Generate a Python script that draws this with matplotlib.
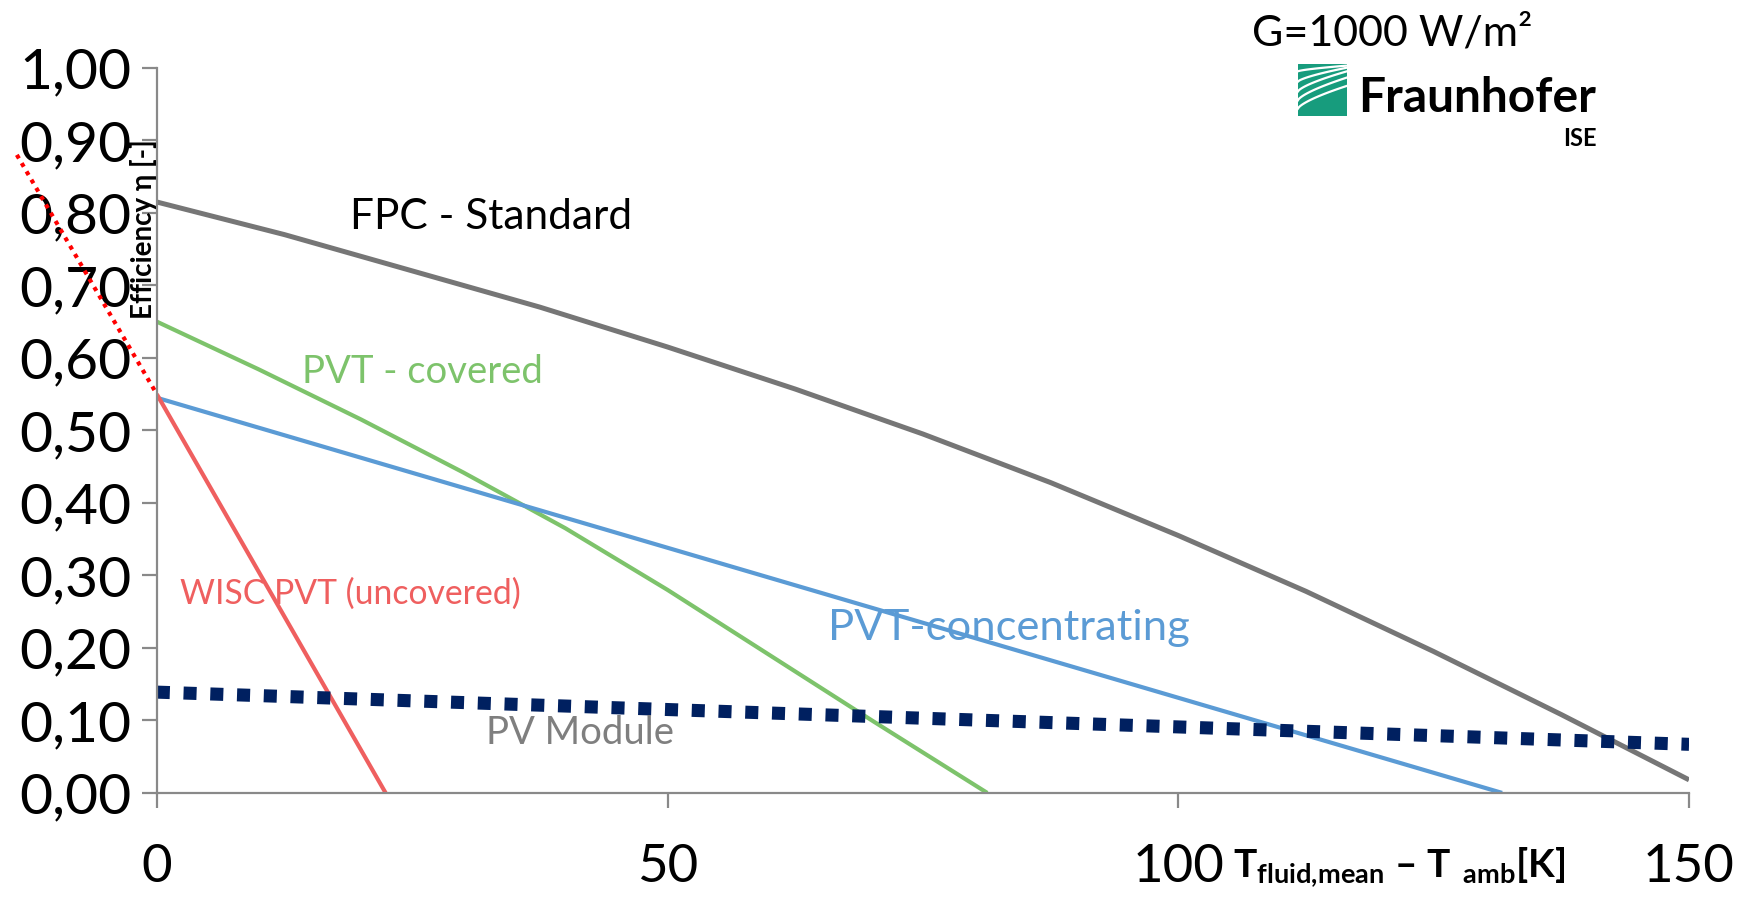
import matplotlib
matplotlib.use("Agg")
import matplotlib.pyplot as plt
import numpy as np
from matplotlib.ticker import FuncFormatter
from matplotlib.patches import Rectangle

plt.rcParams['font.family'] = ['Lato', 'DejaVu Sans']
plt.rcParams['mathtext.fontset'] = 'custom'
plt.rcParams['mathtext.rm'] = 'Lato'
plt.rcParams['mathtext.bf'] = 'Lato:bold'

# values (x = T_fluid,mean - T_amb in K, y = efficiency)
fpc_x = [0, 12.5, 25, 37.5, 50, 62.5, 75, 87.5, 100, 112.5, 125, 137.5, 150]
fpc_eta = [0.815, 0.77, 0.72, 0.67, 0.615, 0.557, 0.495, 0.428, 0.355,
           0.278, 0.195, 0.108, 0.018]

pvt_cov_x = [0, 10, 20, 30, 40, 50, 60, 70, 81.3]
pvt_cov_eta = [0.65, 0.584, 0.515, 0.442, 0.365, 0.28, 0.19, 0.10, 0.0]

pvt_conc_x = [0, 131.7]
pvt_conc_eta = [0.545, 0.0]

wisc_x = [0, 22.4]
wisc_eta = [0.55, 0.0]
wisc_ext_x = [-13.7, 0]
wisc_ext_eta = [0.88, 0.55]

pv_x = [0, 150]
pv_eta = [0.139, 0.067]

x_ticks = [0, 50, 100, 150]
y_ticks = [0.0, 0.1, 0.2, 0.3, 0.4, 0.5, 0.6, 0.7, 0.8, 0.9, 1.0]

# colours
GREY_AX = '#898989'
C_FPC = '#767676'
C_COV = '#7dc36b'
C_CONC = '#5b9bd5'
C_WISC = '#ef5f5f'
C_PV = '#002060'

fig = plt.figure(figsize=(17.42, 9), dpi=100)
ax = fig.add_axes([0.090, 0.119, 0.8796, 0.8056])

ax.plot(fpc_x, fpc_eta, color=C_FPC, lw=3.6, solid_capstyle='butt')
ax.plot(pvt_cov_x, pvt_cov_eta, color=C_COV, lw=3.0, solid_capstyle='butt')
ax.plot(pvt_conc_x, pvt_conc_eta, color=C_CONC, lw=3.0, solid_capstyle='butt')
ax.plot(wisc_x, wisc_eta, color=C_WISC, lw=3.0, solid_capstyle='butt')
ax.plot(wisc_ext_x, wisc_ext_eta, color='#ff0000', lw=3.0, ls=(0, (1, 1.3)),
        clip_on=False)
ax.plot(pv_x, pv_eta, color=C_PV, lw=9.4, ls=(0, (1, 1.05)),
        dash_capstyle='butt')

ax.set_xlim(0, 150)
ax.set_ylim(0, 1.0)
ax.set_xticks(x_ticks)
ax.set_yticks(y_ticks)
ax.yaxis.set_major_formatter(FuncFormatter(lambda v, p: f"{v:.2f}".replace('.', ',')))

for s in ['top', 'right']:
    ax.spines[s].set_visible(False)
for s in ['left', 'bottom']:
    ax.spines[s].set_color(GREY_AX)
    ax.spines[s].set_linewidth(1.6)
ax.tick_params(axis='both', direction='out', length=11, width=1.6,
               color=GREY_AX, labelsize=38, labelcolor='black')
ax.tick_params(axis='y', pad=7, labelsize=41)
ax.tick_params(axis='x', pad=26)

# curve labels
ax.text(18.9, 0.794, 'FPC - Standard', fontsize=30.5, color='black', va='center')
ax.text(14.2, 0.581, 'PVT - covered', fontsize=27.5, color=C_COV, va='center')
ax.text(2.25, 0.274, 'WISC PVT (uncovered)', fontsize=24.3, color=C_WISC, va='center')
ax.text(65.7, 0.228, 'PVT-concentrating', fontsize=31.3, color=C_CONC, va='center')
ax.text(32.2, 0.083, 'PV Module', fontsize=27.5, color='#7f7f7f', va='center')

# axis titles
fig.text(0.0822, 0.745, 'Efficiency \u03b7 [-]', rotation=90, fontsize=20,
         fontweight='bold', ha='center', va='center')
fig.text(0.708, 0.037,
         r'$\mathbf{T}_{\mathbf{fluid{,}mean}}$' + ' \u2013 '
         + r'$\mathbf{T}\ _{\mathbf{amb}}$' + r'$\mathbf{[K]}$',
         fontsize=28, fontweight='bold', ha='left', va='center')

# irradiance note and logo
fig.text(0.7187, 0.963, 'G=1000 W/m\u00b2', fontsize=31, va='center')
fig.text(0.7796, 0.891, 'Fraunhofer', fontsize=34.5, fontweight='bold', va='center')
fig.text(0.9168, 0.8456, 'ISE', fontsize=17, fontweight='bold', va='center', ha='right')

logo = fig.add_axes([0.745, 0.871, 0.0281, 0.0578])
logo.set_xlim(0, 1)
logo.set_ylim(0, 1)
logo.axis('off')
logo.add_patch(Rectangle((0, 0), 1, 1, color='#179c7d'))
t = np.linspace(0, 1, 40)
starts = [0.86, 0.66, 0.47, 0.30, 0.14]
ends = [0.97, 0.93, 0.86, 0.74, 0.58]
for y0, y1 in zip(starts, ends):
    logo.plot(t, y0 + (y1 - y0) * t ** 0.7, color='white', lw=1.6)

fig.savefig('out.png', dpi=100)
